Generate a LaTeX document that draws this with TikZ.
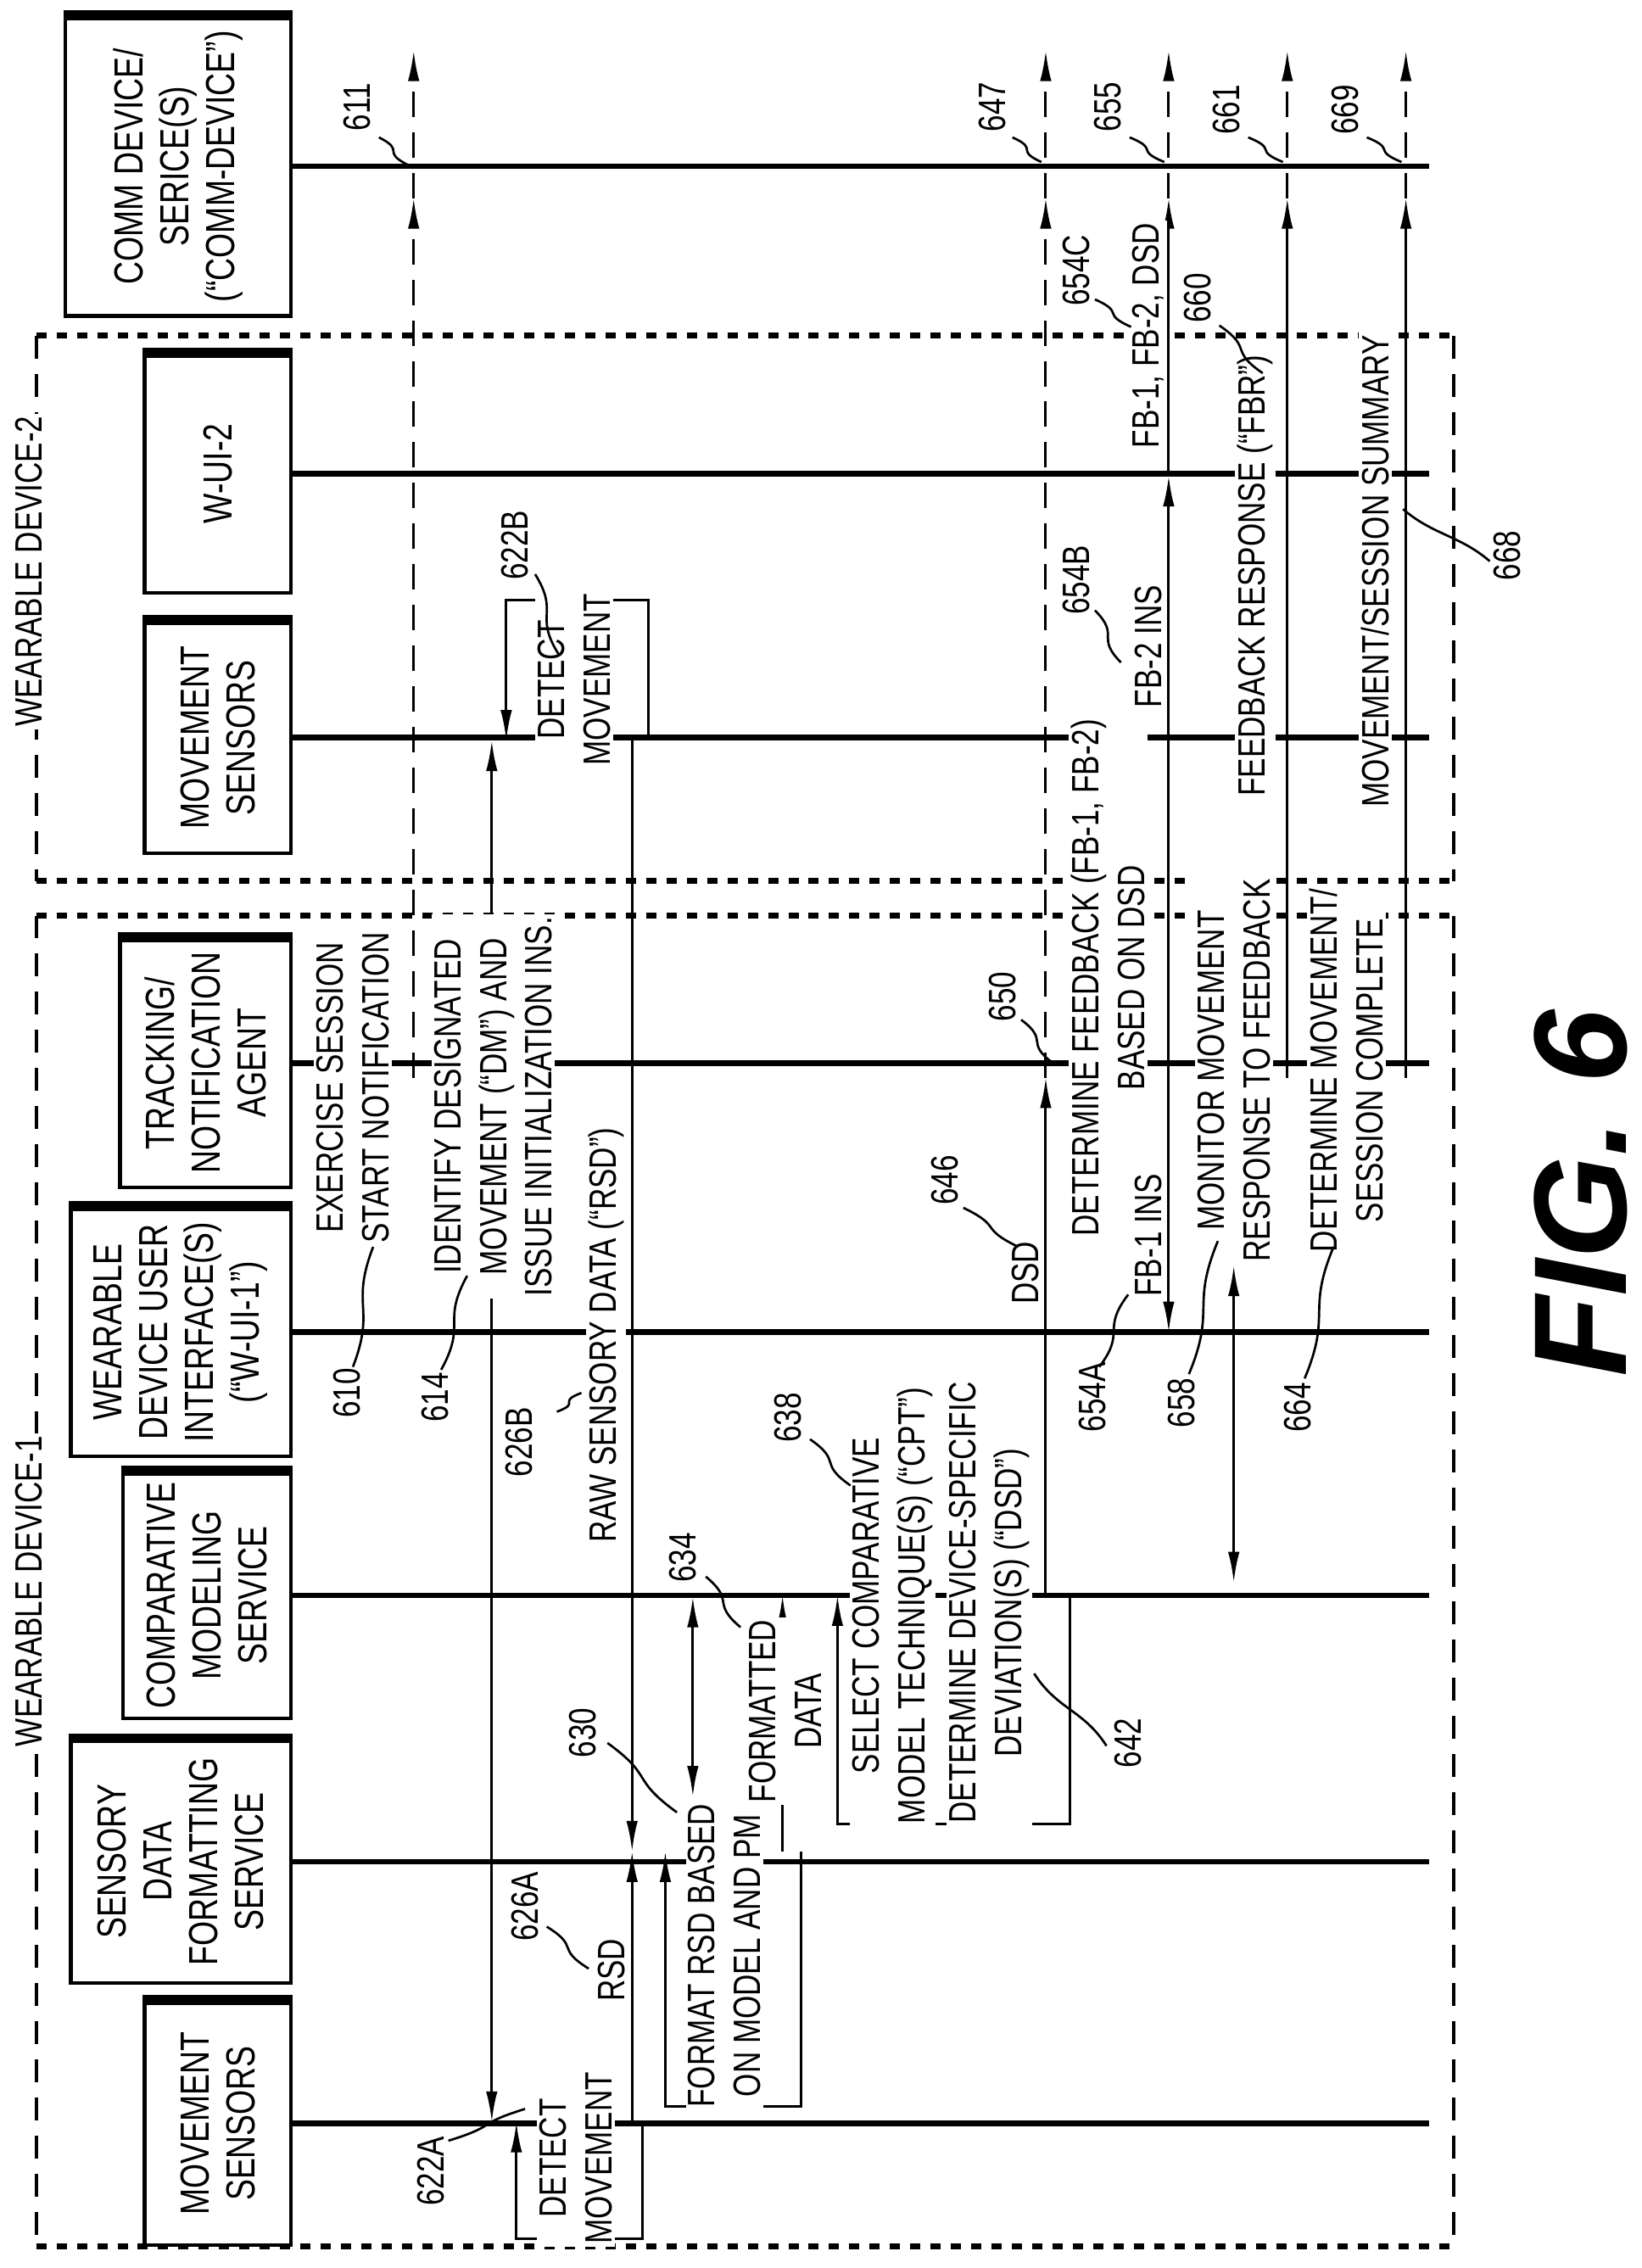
\documentclass[tikz,border=0pt]{standalone}
\usepackage{fontspec}
\setmainfont[FakeStretch=0.78]{Liberation Sans}
\newfontfamily\figfont{Liberation Sans}
\usetikzlibrary{positioning, calc, arrows.meta}

\tikzset{
  actor/.style={draw, line width=1.4pt, rotate=90, align=center, inner sep=2pt,
    font=\fontsize{16}{18}\selectfont},
  life/.style={line width=2.2pt},
  msg/.style={line width=1pt, -{Latex[length=12pt,width=4.5pt]}},
  bmsg/.style={line width=1pt, {Latex[length=12pt,width=4.5pt]}-{Latex[length=12pt,width=4.5pt]}},
  dmsg/.style={msg, dash pattern=on 10pt off 6pt},
  txt/.style={rotate=90, align=center, fill=white, inner sep=1pt,
    font=\fontsize{15}{18}\selectfont},
  num/.style={rotate=90, inner sep=1pt, font=\fontsize{15}{18}\selectfont},
  lead/.style={line width=0.9pt},
  grp/.style={line width=1.3pt, dash pattern=on 9pt off 6pt},
  grpb/.style={line width=2.2pt, dash pattern=on 4pt off 4pt},
}
\newcommand\lead[2]{\draw[lead] (#1) .. controls ($(#1)!0.5!(#2)+(9,0)$) and ($(#1)!0.5!(#2)-(9,0)$) .. (#2);}

\begin{document}
\begin{tikzpicture}[x=0.02cm, y=-0.02cm]
  \useasboundingbox (0,0) rectangle (1135,1568);

  % device groups
  \draw[grp] (25,232) -- (25,609) (1005,232) -- (1005,609);
  \draw[grpb] (25,232) -- (1005,232) (25,609) -- (1005,609);
  \draw[grp] (25,633) -- (25,1553) (1005,633) -- (1005,1553);
  \draw[grpb] (25,633) -- (1005,633) (25,1553) -- (1005,1553);
  \node[txt] (wd2) at (20,395) {WEARABLE DEVICE-2};
  \node[txt] (wd1) at (20,1100) {WEARABLE DEVICE-1};

  % actors
  \node[actor, minimum width=4.14cm, minimum height=3.12cm] (comm) at (123,115) {COMM DEVICE/\\SERICE(S)\\(``COMM-DEVICE'')};
  \node[actor, minimum width=3.3cm, minimum height=2.02cm] (wui2) at (150.5,327.5) {W-UI-2};
  \node[actor, minimum width=3.2cm, minimum height=2.02cm] (ms2) at (150.5,510) {MOVEMENT\\SENSORS};
  \node[actor, minimum width=3.44cm, minimum height=2.36cm] (track) at (142,735) {TRACKING/\\NOTIFICATION\\AGENT};
  \node[actor, minimum width=3.44cm, minimum height=3.04cm] (wui1) at (125,921) {WEARABLE\\DEVICE USER\\INTERFACE(S)\\(``W-UI-1'')};
  \node[actor, minimum width=3.4cm, minimum height=2.32cm] (cms) at (143,1103) {COMPARATIVE\\MODELING\\SERVICE};
  \node[actor, minimum width=3.36cm, minimum height=3.04cm] (sdf) at (125,1287) {SENSORY\\DATA\\FORMATTING\\SERVICE};
  \node[actor, minimum width=3.36cm, minimum height=2.02cm] (ms1) at (150.5,1468) {MOVEMENT\\SENSORS};
  \foreach \a in {comm,wui2,ms2,track,wui1,cms,sdf,ms1}
    \draw[line width=4pt] (\a.north east) -- (\a.south east);

  % lifelines
  \coordinate (rend) at (988,0);
  \foreach \a in {comm,wui2,ms2,track,wui1,cms,sdf,ms1}
    \draw[life] (\a.south) -- (\a.south -| rend);

  % messages
  \draw[dmsg] (286,745) -- (286,137);
  \draw[dmsg] (286,137) -- (286,35);
  \draw[msg] (340,745) -- (340,512);
  \draw[msg] (340,745) -- (340,1467);
  \draw[msg] (448,512) -- (448,415) -- (350,415) -- (350,512);
  \draw[msg] (437,512) -- (437,1280);
  \draw[msg] (444,1467) -- (444,1548) -- (357,1548) -- (357,1467);
  \draw[msg] (437,1467) -- (437,1280);
  \draw[msg] (554,1280) -- (554,1456) -- (460,1456) -- (460,1280);
  \draw[bmsg] (479,1104) -- (479,1242);
  \draw[msg] (541,1280) -- (541,1103);
  \draw[msg] (740,1103) -- (740,1261) -- (579,1261) -- (579,1103);
  \draw[msg] (723,1103) -- (723,745);
  \draw[dmsg] (723,745) -- (723,137);
  \draw[dmsg] (723,137) -- (723,35);
  \draw[msg] (808,745) -- (808,921);
  \draw[msg] (808,745) -- (808,329);
  \draw[msg] (808,329) -- (808,137);
  \draw[dmsg] (808,137) -- (808,35);
  \draw[bmsg] (853,875) -- (853,1094);
  \draw[msg] (890,745) -- (890,137);
  \draw[dmsg] (890,137) -- (890,35);
  \draw[msg] (972,745) -- (972,137);
  \draw[dmsg] (972,137) -- (972,35);

  % message texts
  \node[txt] (t610) at (244,752) {EXERCISE SESSION\\START NOTIFICATION};
  \node[txt] (t614) at (341,765) {IDENTIFY DESIGNATED\\MOVEMENT (``DM'') AND\\ISSUE INITIALIZATION INS.};
  \node[txt] (t626b) at (419,923) {RAW SENSORY DATA (``RSD'')};
  \node[txt] (t622b) at (397,470) {DETECT\\MOVEMENT};
  \node[txt] (t622a) at (398,1492) {DETECT\\MOVEMENT};
  \node[txt] (t626a) at (423,1362) {RSD};
  \node[txt] (t630) at (501,1352) {FORMAT RSD BASED\\ON MODEL AND PM};
  \node[txt] (t634) at (543,1183) {FORMATTED\\DATA};
  \node[txt] (t638) at (617,1110) {SELECT COMPARATIVE\\MODEL TECHNIQUE(S) (``CPT'')};
  \node[txt] (t642) at (684,1108) {DETERMINE DEVICE-SPECIFIC\\DEVIATION(S) (``DSD'')};
  \node[txt] (t646) at (709,880) {DSD};
  \node[txt] (t650) at (766,676) {DETERMINE FEEDBACK (FB-1, FB-2)\\BASED ON DSD};
  \node[txt] (t654a) at (794,854) {FB-1 INS};
  \node[txt] (t654b) at (794,447) {FB-2 INS};
  \node[txt] (t654c) at (794,232) {FB-1, FB-2, DSD};
  \node[txt] (t658) at (853,740) {MONITOR MOVEMENT\\RESPONSE TO FEEDBACK};
  \node[txt] (t660) at (868,398) {FEEDBACK RESPONSE (``FBR'')};
  \node[txt] (t664) at (931,740) {DETERMINE MOVEMENT/\\SESSION COMPLETE};
  \node[txt] (t668) at (951,395) {MOVEMENT/SESSION SUMMARY};

  % reference numerals
  \node[num] (n611) at (247,74) {611};   \lead{262,95}{282,114}
  \node[num] (n647) at (686,74) {647};   \lead{700,95}{720,112}
  \node[num] (n655) at (766,74) {655};   \lead{781,95}{805,112}
  \node[num] (n661) at (848,76) {661};   \lead{863,95}{887,112}
  \node[num] (n669) at (930,76) {669};   \lead{945,95}{969,112}
  \node[num] (n654c) at (744,187) {654C}; \lead{757,207}{782,226}
  \node[num] (n660) at (828,206) {660};  \lead{843,225}{873,258}
  \node[num] (n668) at (1042,384) {668}; \lead{1030,388}{970,352}
  \node[num] (n622b) at (356,377) {622B}; \lead{370,397}{386,452}
  \node[num] (n654b) at (744,401) {654B}; \lead{757,422}{775,458}
  \node[num] (n650) at (693,689) {650};  \lead{706,705}{728,735}
  \node[num] (n646) at (653,816) {646};  \lead{666,835}{704,862}
  \node[num] (n610) at (240,963) {610};  \lead{244,945}{258,862}
  \node[num] (n614) at (301,966) {614};  \lead{305,947}{323,882}
  \node[num] (n626b) at (359,997) {626B}; \lead{385,976}{402,963}
  \node[num] (n654a) at (755,966) {654A}; \lead{760,945}{780,895}
  \node[num] (n658) at (817,970) {658};  \lead{822,950}{842,858}
  \node[num] (n664) at (897,973) {664};  \lead{902,953}{922,862}
  \node[num] (n638) at (545,980) {638};  \lead{560,995}{588,1027}
  \node[num] (n634) at (472,1077) {634}; \lead{488,1090}{512,1125}
  \node[num] (n630) at (403,1198) {630}; \lead{420,1205}{468,1253}
  \node[num] (n642) at (780,1205) {642}; \lead{765,1207}{715,1157}
  \node[num] (n626a) at (363,1318) {626A}; \lead{378,1332}{407,1361}
  \node[num] (n622a) at (298,1501) {622A}; \lead{310,1480}{363,1458}

  \node[rotate=90, font=\figfont\fontsize{52}{52}\selectfont\bfseries\itshape] (fig) at (1093,825) {FIG. 6};
\end{tikzpicture}
\end{document}
